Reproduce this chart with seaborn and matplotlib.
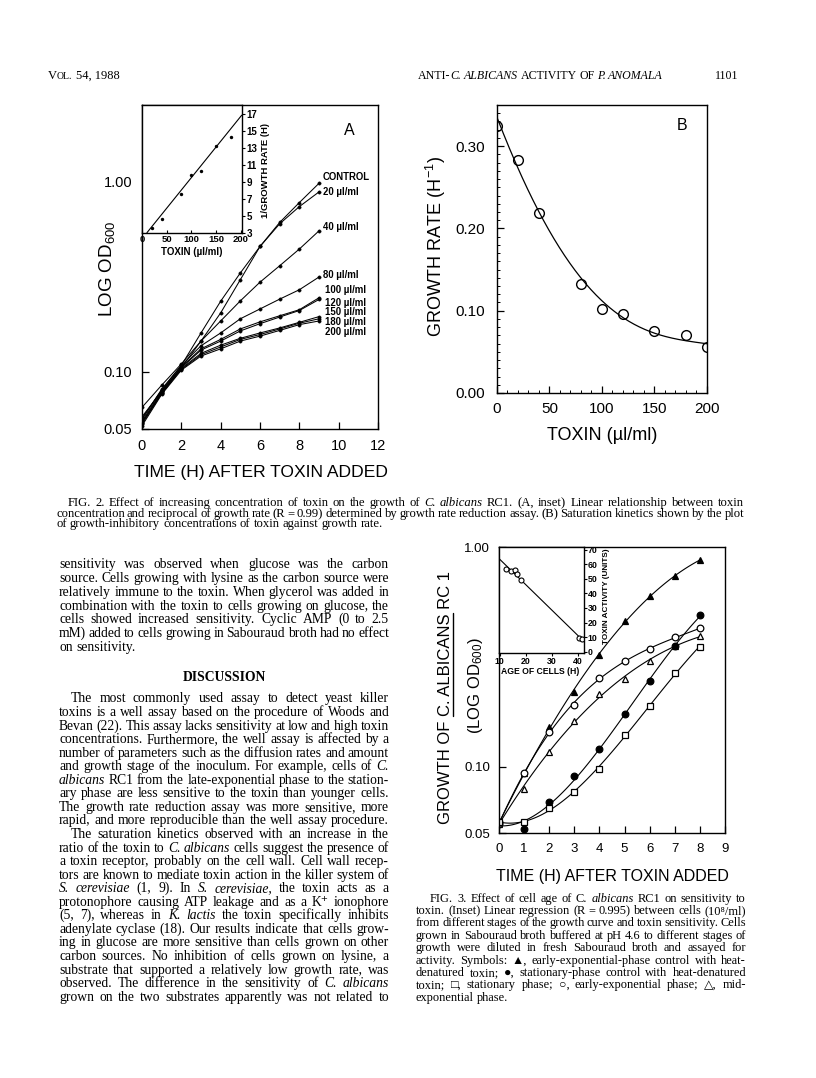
import numpy as np
import pandas as pd
import matplotlib
matplotlib.use("Agg")
import matplotlib.pyplot as plt
import seaborn as sns
from matplotlib import font_manager as fm
from matplotlib.lines import Line2D
from matplotlib.ticker import FixedLocator, FixedFormatter, MultipleLocator, NullLocator

# ---------------------------------------------------------------- data
# FIG. 2 A : log OD600 vs time for each toxin concentration
hours_a = [0, 1, 2, 3, 4, 5, 6, 7, 8, 9]
od_control = [0.058, 0.079, 0.105, 0.145, 0.204, 0.305, 0.456, 0.610, 0.776, 0.980]
od_20 = [0.056, 0.081, 0.108, 0.160, 0.235, 0.331, 0.456, 0.600, 0.739, 0.883]
od_40 = [0.065, 0.085, 0.110, 0.145, 0.185, 0.236, 0.296, 0.361, 0.442, 0.551]
od_80 = [0.057, 0.080, 0.108, 0.137, 0.160, 0.190, 0.214, 0.241, 0.270, 0.315]
od_100 = [0.055, 0.079, 0.106, 0.132, 0.148, 0.168, 0.183, 0.197, 0.212, 0.245]
od_120 = [0.054, 0.078, 0.105, 0.130, 0.145, 0.164, 0.179, 0.194, 0.210, 0.240]
od_150 = [0.054, 0.077, 0.104, 0.125, 0.138, 0.150, 0.160, 0.170, 0.182, 0.195]
od_180 = [0.053, 0.077, 0.103, 0.123, 0.135, 0.148, 0.157, 0.168, 0.180, 0.190]
od_200 = [0.052, 0.076, 0.102, 0.121, 0.132, 0.145, 0.154, 0.165, 0.177, 0.185]
a_labels = ["CONTROL", "20 µl/ml", "40 µl/ml", "80 µl/ml", "100 µl/ml",
            "120 µl/ml", "150 µl/ml", "180 µl/ml", "200 µl/ml"]
a_yticks = [0.05, 0.10, 1.00]
a_yticklabels = ["0.05", "0.10", "1.00"]
a_xticks = [0, 2, 4, 6, 8, 10, 12]

# FIG. 2 A inset : 1/growth rate vs toxin
inset_a_toxin = [20, 40, 80, 100, 120, 150, 180]
inset_a_inv_rate = [3.5, 4.6, 7.6, 9.75, 10.3, 13.2, 14.2]
inset_a_fit_toxin = [10, 202]
inset_a_fit_inv_rate = [3.0, 16.8]
inset_a_xticks = [0, 50, 100, 150, 200]
inset_a_yticks = [3, 5, 7, 9, 11, 13, 15, 17]

# FIG. 2 B : growth rate vs toxin
b_toxin = [0, 20, 40, 80, 100, 120, 150, 180, 200]
b_rate = [0.325, 0.283, 0.219, 0.132, 0.102, 0.096, 0.075, 0.070, 0.056]
b_curve_toxin = [0, 20, 40, 60, 80, 100, 120, 140, 160, 180, 200]
b_curve_rate = [0.335, 0.273, 0.220, 0.176, 0.140, 0.111, 0.092, 0.078, 0.069, 0.063, 0.060]
b_xticks = [0, 50, 100, 150, 200]
b_yticks = [0.0, 0.1, 0.2, 0.3]
b_yticklabels = ["0.00", "0.10", "0.20", "0.30"]

# FIG. 3 : growth vs time for cells of different age
f3_hours = [0, 1, 2, 3, 4, 5, 6, 7, 8]
f3_early_ctrl = [0.055, 0.094, 0.152, 0.219, 0.324, 0.459, 0.597, 0.741, 0.869]   # filled triangle
f3_early = [0.055, 0.094, 0.144, 0.192, 0.254, 0.303, 0.342, 0.389, 0.426]        # open circle
f3_mid = [0.056, 0.079, 0.117, 0.162, 0.215, 0.252, 0.303, 0.354, 0.393]          # open triangle
f3_stat_ctrl = [0.056, 0.052, 0.069, 0.091, 0.120, 0.173, 0.245, 0.354, 0.488]    # filled circle
f3_stat = [0.056, 0.056, 0.065, 0.077, 0.098, 0.139, 0.189, 0.266, 0.352]         # open square
f3_yticks = [0.05, 0.10, 1.00]
f3_yticklabels = ["0.05", "0.10", "1.00"]
f3_xticks = [0, 1, 2, 3, 4, 5, 6, 7, 8, 9]

# FIG. 3 inset : toxin activity vs age of cells
f3i_age = [12.5, 14.2, 15.7, 16.8, 18.1, 40.5, 41.8]
f3i_activity = [56.7, 55.0, 55.7, 53.2, 49.3, 9.2, 9.0]
f3i_xticks = [10, 20, 30, 40]
f3i_yticks = [0, 10, 20, 30, 40, 50, 60, 70]

# ---------------------------------------------------------------- style
sns.set_theme(style="ticks")
names = {f.name for f in fm.fontManager.ttflist}
SANS = ["Liberation Sans", "DejaVu Sans"]
NARROW = (["Liberation Sans Narrow", "Liberation Sans", "DejaVu Sans"]
          if "Liberation Sans Narrow" in names else SANS)
SERIF1 = "Liberation Serif"
SERIF = ["Liberation Serif", "DejaVu Sans"]
plt.rcParams.update({
    "font.family": SANS,
    "text.color": "black", "axes.edgecolor": "black", "axes.labelcolor": "black",
    "xtick.color": "black", "ytick.color": "black",
    "axes.linewidth": 1.0,
    "mathtext.fontset": "custom", "mathtext.rm": "Liberation Sans",
    "mathtext.it": "Liberation Sans:italic", "mathtext.bf": "Liberation Sans:bold",
    "figure.facecolor": "white", "axes.facecolor": "white",
})

W, H = 816, 1078
fig = plt.figure(figsize=(W / 100, H / 100), dpi=100)
R = fig.canvas.get_renderer()


def fx(x):
    return x / W


def fy(y):
    return 1 - y / H


def ax_at(x0, y0, x1, y1):
    return fig.add_axes([x0 / W, 1 - y1 / H, (x1 - x0) / W, (y1 - y0) / H])


def text_w(s, **kw):
    t = fig.text(0, 0, s, **kw)
    w = t.get_window_extent(renderer=R).width
    t.remove()
    return w


def ftext(x, y, s, **kw):
    return fig.text(fx(x), fy(y), s, **kw)


def fam_for(word):
    return SERIF1 if all(ord(c) < 256 for c in word) else SERIF


def parse(line):
    out = []
    for w in line.split(" "):
        if w.startswith("~"):
            out.append((w[1:], "italic"))
        else:
            out.append((w, "normal"))
    return out


def space_w(size):
    return text_w("n n", fontsize=size, family=SERIF1) - text_w("nn", fontsize=size, family=SERIF1)


def natural_width(line, size):
    words = parse(line)
    return (sum(text_w(w, fontsize=size, family=fam_for(w), style=st) for w, st in words)
            + space_w(size) * (len(words) - 1))


def fit_size(lines, x0, x1, slack=1.02):
    ratios = []
    for line, ind, just in lines:
        if just:
            ratios.append((x1 - x0 - ind) / natural_width(line, 10))
    return 10 * min(ratios) * slack


def draw_line(line, x0, x1, yb, size, justify=True, weight="normal"):
    yb = round(yb)          # integer pixel baseline keeps all words on one line
    words = parse(line)
    widths = [text_w(w, fontsize=size, family=fam_for(w), style=st, weight=weight)
              for w, st in words]
    if justify and len(words) > 1:
        gap = (x1 - x0 - sum(widths)) / (len(words) - 1)
    else:
        gap = space_w(size)
    x = x0
    for (w, st), wd in zip(words, widths):
        ftext(x, yb, w, fontsize=size, family=fam_for(w), style=st, weight=weight,
              ha="left", va="baseline")
        x += wd + gap


def draw_run(pieces, x, yb):
    for s, size, style, gap in pieces:
        ftext(x, yb, s, fontsize=size, style=style, family=SERIF1, ha="left", va="baseline")
        x += text_w(s, fontsize=size, style=style, family=SERIF1) + gap


def bold_ticklabels(ax, family=SANS):
    for lbl in ax.get_xticklabels() + ax.get_yticklabels():
        lbl.set_fontweight("bold")
        lbl.set_fontfamily(family)


# ---------------------------------------------------------------- header
draw_run([("V", 9, "normal", 0), ("OL.", 7, "normal", 3), ("54, 1988", 9, "normal", 0)], 48, 79)
draw_run([("ANTI-", 8.6, "normal", 0), ("C.", 8.6, "italic", 2.5), ("ALBICANS", 8.6, "italic", 2.5),
          ("ACTIVITY", 8.6, "normal", 2.5), ("OF", 8.6, "normal", 2.5), ("P.", 8.6, "italic", 2.5),
          ("ANOMALA", 8.6, "italic", 0)], 418, 79)
ftext(738, 79, "1101", fontsize=8.6, family=SERIF1, ha="right", va="baseline")

# ---------------------------------------------------------------- FIG 2 A
axA = ax_at(142, 105, 378, 429)
for vals in [od_control, od_20, od_40, od_80, od_100, od_120, od_150, od_180, od_200]:
    sns.lineplot(x=hours_a, y=vals, ax=axA, color="black", linewidth=0.75, marker="o",
                 markersize=2.4, markeredgecolor="black", markerfacecolor="black",
                 markeredgewidth=0.3, estimator=None, sort=False, legend=False)
axA.set_yscale("log")
axA.set_xlim(0, 12)
axA.set_ylim(0.05, 2.53)
axA.yaxis.set_major_locator(FixedLocator(a_yticks))
axA.yaxis.set_major_formatter(FixedFormatter(a_yticklabels))
axA.yaxis.set_minor_locator(NullLocator())
axA.set_xticks(a_xticks)
axA.tick_params(direction="in", length=5, width=0.9, labelsize=10.5, top=False, right=False)
axA.tick_params(axis="y", pad=7)
axA.tick_params(axis="x", pad=7)
axA.set_xlabel("")
axA.set_ylabel("")
label_x = [9.2, 9.2, 9.2, 9.2, 9.3, 9.3, 9.3, 9.3, 9.3]
label_y = [1.054, 0.886, 0.576, 0.324, 0.268, 0.230, 0.205, 0.182, 0.161]
for lx, ly, s in zip(label_x, label_y, a_labels):
    axA.text(lx, ly, s, fontsize=6.9, weight="bold", ha="left", va="center", family=SANS)
axA.text(0.88, 0.92, "A", transform=axA.transAxes, fontsize=11.5, ha="center", va="center")
ftext(107, 269, "LOG OD$_{600}$", fontsize=13.5, rotation=90, ha="center", va="center")
ftext(261, 473, "TIME (H) AFTER TOXIN ADDED", fontsize=12.6, ha="center", va="center")

# inset A
axAi = ax_at(142, 105, 241.7, 232.7)
axAi.set_zorder(3)
sns.lineplot(x=inset_a_fit_toxin, y=inset_a_fit_inv_rate, ax=axAi, color="black", linewidth=0.8,
             estimator=None, sort=False, legend=False)
sns.scatterplot(x=inset_a_toxin, y=inset_a_inv_rate, ax=axAi, color="black", s=6,
                edgecolor="black", linewidth=0, legend=False)
axAi.set_xlim(0, 202)
axAi.set_ylim(3, 18)
axAi.yaxis.tick_right()
axAi.set_yticks(inset_a_yticks)
axAi.set_xticks(inset_a_xticks)
axAi.tick_params(axis="y", direction="out", length=2.5, width=0.8, pad=1.2, labelsize=7,
                 right=True, left=False)
axAi.tick_params(axis="x", direction="in", length=2.5, width=0.8, pad=1.5, labelsize=6.8)
bold_ticklabels(axAi)
axAi.set_xlabel("")
axAi.set_ylabel("")
ftext(266, 170, "1/GROWTH RATE (H)", fontsize=6.8, weight="bold", rotation=90,
      ha="center", va="center")
ftext(192, 252, "TOXIN (µl/ml)", fontsize=7, weight="bold", ha="center", va="center")

# ---------------------------------------------------------------- FIG 2 B
axB = ax_at(497, 105, 707, 393)
bcoef = np.polyfit(b_curve_toxin, b_curve_rate, 4)
bx = np.linspace(0, 200, 200)
sns.lineplot(x=bx, y=np.polyval(bcoef, bx), ax=axB, color="black", linewidth=0.9,
             estimator=None, sort=False, legend=False)
sns.lineplot(x=b_toxin, y=b_rate, ax=axB, color="black", linestyle="", marker="o",
             markersize=7, markerfacecolor="none", markeredgecolor="black",
             markeredgewidth=1.0, estimator=None, sort=False, legend=False)
axB.set_xlim(0, 200)
axB.set_ylim(0, 0.35)
axB.set_xticks(b_xticks)
axB.set_yticks(b_yticks)
axB.set_yticklabels(b_yticklabels)
axB.xaxis.set_minor_locator(MultipleLocator(10))
axB.yaxis.set_minor_locator(MultipleLocator(0.01))
axB.tick_params(which="major", direction="in", length=5, width=0.9, labelsize=11)
axB.tick_params(which="minor", direction="in", length=2.5, width=0.7)
axB.tick_params(axis="y", pad=8.5)
axB.tick_params(axis="x", pad=6.5)
axB.set_xlabel("")
axB.set_ylabel("")
axB.text(0.88, 0.93, "B", transform=axB.transAxes, fontsize=11.5, ha="center", va="center")
ftext(436, 247, "GROWTH RATE (H$^{-1}$)", fontsize=13, rotation=90, ha="center", va="center")
ftext(602, 435, "TOXIN (µl/ml)", fontsize=13, ha="center", va="center")

# ---------------------------------------------------------------- FIG 2 caption
cap2 = [
    ("FIG. 2. Effect of increasing concentration of toxin on the growth of ~C. ~albicans RC1. "
     "(A, inset) Linear relationship between toxin", 11.6, True),
    ("concentration and reciprocal of growth rate (R = 0.99) determined by growth rate reduction "
     "assay. (B) Saturation kinetics shown by the plot", 0, True),
    ("of growth-inhibitory concentrations of toxin against growth rate.", 0, False),
]
c2x0, c2x1 = 56, 744
c2size = fit_size(cap2, c2x0, c2x1, 1.03)
for i, (line, ind, just) in enumerate(cap2):
    draw_line(line, c2x0 + ind, c2x1, 506.5 + i * 10.4, c2size, just)

# ---------------------------------------------------------------- body text
body1 = [
    ("sensitivity was observed when glucose was the carbon", 0, True),
    ("source. Cells growing with lysine as the carbon source were", 0, True),
    ("relatively immune to the toxin. When glycerol was added in", 0, True),
    ("combination with the toxin to cells growing on glucose, the", 0, True),
    ("cells showed increased sensitivity. Cyclic AMP (0 to 2.5", 0, True),
    ("mM) added to cells growing in Sabouraud broth had no effect", 0, True),
    ("on sensitivity.", 0, False),
]
body2 = [
    ("The most commonly used assay to detect yeast killer", 12, True),
    ("toxins is a well assay based on the procedure of Woods and", 0, True),
    ("Bevan (22). This assay lacks sensitivity at low and high toxin", 0, True),
    ("concentrations. Furthermore, the well assay is affected by a", 0, True),
    ("number of parameters such as the diffusion rates and amount", 0, True),
    ("and growth stage of the inoculum. For example, cells of ~C.", 0, True),
    ("~albicans RC1 from the late-exponential phase to the station-", 0, True),
    ("ary phase are less sensitive to the toxin than younger cells.", 0, True),
    ("The growth rate reduction assay was more sensitive, more", 0, True),
    ("rapid, and more reproducible than the well assay procedure.", 0, True),
    ("The saturation kinetics observed with an increase in the", 12, True),
    ("ratio of the toxin to ~C. ~albicans cells suggest the presence of", 0, True),
    ("a toxin receptor, probably on the cell wall. Cell wall recep-", 0, True),
    ("tors are known to mediate toxin action in the killer system of", 0, True),
    ("~S. ~cerevisiae (1, 9). In ~S. ~cerevisiae, the toxin acts as a", 0, True),
    ("protonophore causing ATP leakage and as a K⁺ ionophore", 0, True),
    ("(5, 7), whereas in ~K. ~lactis the toxin specifically inhibits", 0, True),
    ("adenylate cyclase (18). Our results indicate that cells grow-", 0, True),
    ("ing in glucose are more sensitive than cells grown on other", 0, True),
    ("carbon sources. No inhibition of cells grown on lysine, a", 0, True),
    ("substrate that supported a relatively low growth rate, was", 0, True),
    ("observed. The difference in the sensitivity of ~C. ~albicans", 0, True),
    ("grown on the two substrates apparently was not related to", 0, True),
]
bx0, bx1 = 59, 389
bsize = fit_size(body1 + body2, bx0, bx1, 1.02)
for i, (line, ind, just) in enumerate(body1):
    draw_line(line, bx0 + ind, bx1, 568.5 + i * 13.7, bsize, just)
ftext((bx0 + bx1) / 2, 681, "DISCUSSION", fontsize=bsize, weight="bold", family=SERIF1,
      ha="center", va="baseline")
for i, (line, ind, just) in enumerate(body2):
    draw_line(line, bx0 + ind, bx1, 702.5 + i * 13.55, bsize, just)

# ---------------------------------------------------------------- FIG 3
ax3 = ax_at(499, 547, 725, 833)
f3_series = [
    (f3_early_ctrl, "^", "black"),
    (f3_early, "o", "white"),
    (f3_mid, "^", "white"),
    (f3_stat_ctrl, "o", "black"),
    (f3_stat, "s", "white"),
]
hx = np.linspace(0, 8, 120)
for vals, mk, face in f3_series:
    coef = np.polyfit(f3_hours, np.log10(vals), 3)
    sns.lineplot(x=hx, y=10 ** np.polyval(coef, hx), ax=ax3, color="black", linewidth=0.8,
                 estimator=None, sort=False, legend=False)
    sns.lineplot(x=f3_hours, y=vals, ax=ax3, color="black", linestyle="", marker=mk,
                 markersize=4.8, markerfacecolor=face, markeredgecolor="black",
                 markeredgewidth=0.9, estimator=None, sort=False, legend=False)
ax3.set_yscale("log")
ax3.set_xlim(0, 9)
ax3.set_ylim(0.05, 1.0)
ax3.yaxis.set_major_locator(FixedLocator(f3_yticks))
ax3.yaxis.set_major_formatter(FixedFormatter(f3_yticklabels))
ax3.yaxis.set_minor_locator(NullLocator())
ax3.set_xticks(f3_xticks)
ax3.tick_params(direction="in", length=5, width=0.9, labelsize=9.5)
ax3.tick_params(axis="y", pad=6.5)
ax3.tick_params(axis="x", pad=7)
ax3.set_xlabel("")
ax3.set_ylabel("")
ftext(612, 877, "TIME (H) AFTER TOXIN ADDED", fontsize=11.5, ha="center", va="center")

# y label with underlined species name
yl_kw = dict(fontsize=12, family=SANS)
yl_full = "GROWTH OF C. ALBICANS RC 1"
Wf = text_w(yl_full, **yl_kw)
w1 = text_w("GROWTH OF C", **yl_kw) - text_w("C", **yl_kw)
w2 = text_w("GROWTH OF C. ALBICANS", **yl_kw)
ylx, yly = 446, 697
ftext(ylx, yly, yl_full, rotation=90, ha="center", va="center", **yl_kw)
ystart = yly + Wf / 2
fig.add_artist(Line2D([fx(ylx + 6.5), fx(ylx + 6.5)], [fy(ystart - w1), fy(ystart - w2)],
                      transform=fig.transFigure, color="black", linewidth=1.0))
ftext(475, 686, "(LOG OD$_{600}$)", fontsize=12, rotation=90, ha="center", va="center")

# inset FIG 3
ax3i = ax_at(499, 547, 583.5, 652.7)
ax3i.set_zorder(3)
fcoef = np.polyfit(f3i_age, f3i_activity, 1)
ax_line = np.array([9.7, 41.6])
sns.lineplot(x=ax_line, y=np.polyval(fcoef, ax_line), ax=ax3i, color="black", linewidth=0.8,
             estimator=None, sort=False, legend=False)
sns.lineplot(x=f3i_age, y=f3i_activity, ax=ax3i, color="black", linestyle="", marker="o",
             markersize=3.6, markerfacecolor="white", markeredgecolor="black",
             markeredgewidth=0.8, estimator=None, sort=False, legend=False)
ax3i.set_xlim(9.7, 42.3)
ax3i.set_ylim(-0.7, 71.8)
ax3i.yaxis.tick_right()
ax3i.set_yticks(f3i_yticks)
ax3i.set_xticks(f3i_xticks)
ax3i.tick_params(axis="y", direction="out", length=2.2, width=0.8, pad=1.0, labelsize=6.3,
                 right=True, left=False)
ax3i.tick_params(axis="x", direction="out", length=2.2, width=0.8, pad=1.0, labelsize=6.3)
bold_ticklabels(ax3i, NARROW)
ax3i.set_xlabel("")
ax3i.set_ylabel("")
ftext(606.5, 596, "TOXIN ACTIVITY (UNITS)", fontsize=5.9, weight="bold", family=NARROW,
      rotation=90, ha="center", va="center")
ftext(540, 671.5, "AGE OF CELLS (H)", fontsize=6.2, weight="bold", family=NARROW,
      ha="center", va="center")

# ---------------------------------------------------------------- FIG 3 caption
cap3 = [
    ("FIG. 3. Effect of cell age of C. ~albicans RC1 on sensitivity to", 14, True),
    ("toxin. (Inset) Linear regression (R = 0.995) between cells (10⁸/ml)", 0, True),
    ("from different stages of the growth curve and toxin sensitivity. Cells", 0, True),
    ("grown in Sabouraud broth buffered at pH 4.6 to different stages of", 0, True),
    ("growth were diluted in fresh Sabouraud broth and assayed for", 0, True),
    ("activity. Symbols: ▲, early-exponential-phase control with heat-", 0, True),
    ("denatured toxin; ●, stationary-phase control with heat-denatured", 0, True),
    ("toxin; □, stationary phase; ○, early-exponential phase; △, mid-", 0, True),
    ("exponential phase.", 0, False),
]
c3x0, c3x1 = 416, 746
c3size = fit_size(cap3, c3x0, c3x1, 1.02)
for i, (line, ind, just) in enumerate(cap3):
    draw_line(line, c3x0 + ind, c3x1, 901.5 + i * 12.4, c3size, just)

fig.savefig("out.png", dpi=100, facecolor="white")
